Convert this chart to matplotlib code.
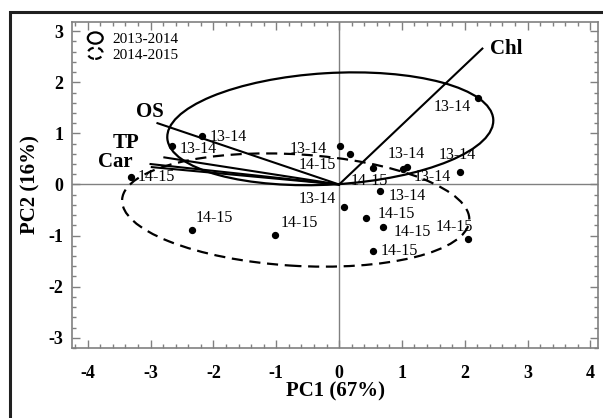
import matplotlib
matplotlib.use("Agg")
import matplotlib.pyplot as plt
import matplotlib.patches as mpatches
from matplotlib.legend_handler import HandlerPatch
from matplotlib.ticker import MultipleLocator

plt.rcParams['font.family'] = ['Liberation Serif', 'DejaVu Serif']
plt.rcParams['axes.unicode_minus'] = False

# PCA scores, season 2013-2014
x_1314 = [2.21, -2.18, -2.66, 0.02, 1.02, 1.08, 1.92, 0.65, 0.08]
y_1314 = [1.69, 0.94, 0.75, 0.76, 0.31, 0.35, 0.25, -0.12, -0.45]
# PCA scores, season 2014-2015
x_1415 = [-3.31, 0.17, 0.54, 0.43, 0.70, 0.54, -1.02, -2.34, 2.05]
y_1415 = [0.14, 0.59, 0.33, -0.65, -0.84, -1.31, -0.98, -0.90, -1.06]

# loadings
load_names = ["Chl", "OS", "TP", "Car", ""]
load_x = [2.28, -2.89, -2.78, -3.00, -2.98]
load_y = [2.66, 1.20, 0.53, 0.40, 0.34]

# confidence ellipses: centre x, centre y, width, height, angle
ell_1314 = [-0.14, 1.09, 5.20, 2.18, 4.3]
ell_1415 = [-0.69, -0.50, 5.54, 2.18, -4.5]

# label offsets (pixels) for each point
off_1314 = [(-26, -9), (26, -1), (26, -3), (-32, -3), (3, 15), (25, -10),
            (-2, 17), (27, -5), (-27, 8)]
off_1415 = [(25, 0), (-32, -11), (-4, -13), (30, 4), (29, -5), (26, 0),
            (24, 12), (22, 12), (-14, 12)]
load_off = [(8, 0, 'left'), (6, 11, 'right'), (-25, 14, 'right'), (-18, 2, 'right'), (0, 0, 'right')]


class HandlerEllipse(HandlerPatch):
    def create_artists(self, legend, orig_handle, xdescent, ydescent,
                       width, height, fontsize, trans):
        center = 0.5 * width - 0.5 * xdescent, 0.5 * height - 0.5 * ydescent
        p = mpatches.Ellipse(xy=center, width=width * 0.75, height=height * 1.05)
        self.update_prop(p, orig_handle, legend)
        p.set_transform(trans)
        return [p]


fig = plt.figure(figsize=(6.03, 4.18), dpi=100)
ax = fig.add_axes([72 / 603, 1 - 348 / 418, 526 / 603, 326 / 418])

ax.axhline(0, color='#808080', lw=1, zorder=1)
ax.axvline(0, color='#808080', lw=1, zorder=1)

e1 = mpatches.Ellipse((ell_1314[0], ell_1314[1]), ell_1314[2], ell_1314[3],
                      angle=ell_1314[4], fill=False, ec='black', lw=1.6, ls='-')
e2 = mpatches.Ellipse((ell_1415[0], ell_1415[1]), ell_1415[2], ell_1415[3],
                      angle=ell_1415[4], fill=False, ec='black', lw=1.6, ls=(0, (5, 3)))
ax.add_patch(e1)
ax.add_patch(e2)

for i in range(len(load_names)):
    ax.plot([0, load_x[i]], [0, load_y[i]], color='black', lw=1.5)
    dx, dy, ha = load_off[i]
    ax.annotate(load_names[i], (load_x[i], load_y[i]), xytext=(dx, dy),
                textcoords='offset pixels', ha=ha, va='center',
                fontsize=15, fontweight='bold')

ax.scatter(x_1314, y_1314, s=18, color='black', zorder=3)
ax.scatter(x_1415, y_1415, s=18, color='black', zorder=3)

for i in range(len(x_1314)):
    ax.annotate("13-14", (x_1314[i], y_1314[i]), xytext=off_1314[i],
                textcoords='offset pixels', ha='center', va='center', fontsize=11.5)
for i in range(len(x_1415)):
    ax.annotate("14-15", (x_1415[i], y_1415[i]), xytext=off_1415[i],
                textcoords='offset pixels', ha='center', va='center', fontsize=11.5)

ax.set_xlim(-4.25, 4.12)
ax.set_ylim(-3.2, 3.18)
ax.xaxis.set_major_locator(MultipleLocator(1))
ax.xaxis.set_minor_locator(MultipleLocator(0.2))
ax.yaxis.set_major_locator(MultipleLocator(1))
ax.yaxis.set_minor_locator(MultipleLocator(0.2))
ax.tick_params(which='both', direction='in', top=True, right=True, color='#808080')
ax.tick_params(which='major', length=6, width=1)
ax.tick_params(which='minor', length=3, width=1)
ax.tick_params(axis='x', pad=12)
ax.tick_params(axis='y', pad=6)
for lab in ax.get_xticklabels() + ax.get_yticklabels():
    lab.set_fontweight('bold')
    lab.set_fontsize(13)
for sp in ax.spines.values():
    sp.set_color('#808080')
    sp.set_linewidth(1.2)

ax.set_xlabel("PC1 (67%)", fontsize=15, fontweight='bold', labelpad=0)
ax.set_ylabel("PC2 (16%)", fontsize=15, fontweight='bold', labelpad=6)

h1 = mpatches.Ellipse((0, 0), 1, 1, fill=False, ec='black', lw=1.6, ls='-')
h2 = mpatches.Ellipse((0, 0), 1, 1, fill=False, ec='black', lw=1.6, ls=(0, (3, 2)))
ax.legend([h1, h2], ["2013-2014", "2014-2015"], loc='upper left',
          bbox_to_anchor=(0.005, 1.0),
          handler_map={mpatches.Ellipse: HandlerEllipse()},
          frameon=False, fontsize=11, handlelength=1.3, handletextpad=0.5,
          labelspacing=0.1, borderaxespad=0.4, borderpad=0.3)

frame = mpatches.Rectangle((10 / 603, -0.05), 1.1, 1 - 12 / 418 + 0.05,
                           transform=fig.transFigure, fill=False, ec='#202020',
                           lw=2.2, clip_on=False)
fig.add_artist(frame)

fig.savefig("out.png", dpi=100)
